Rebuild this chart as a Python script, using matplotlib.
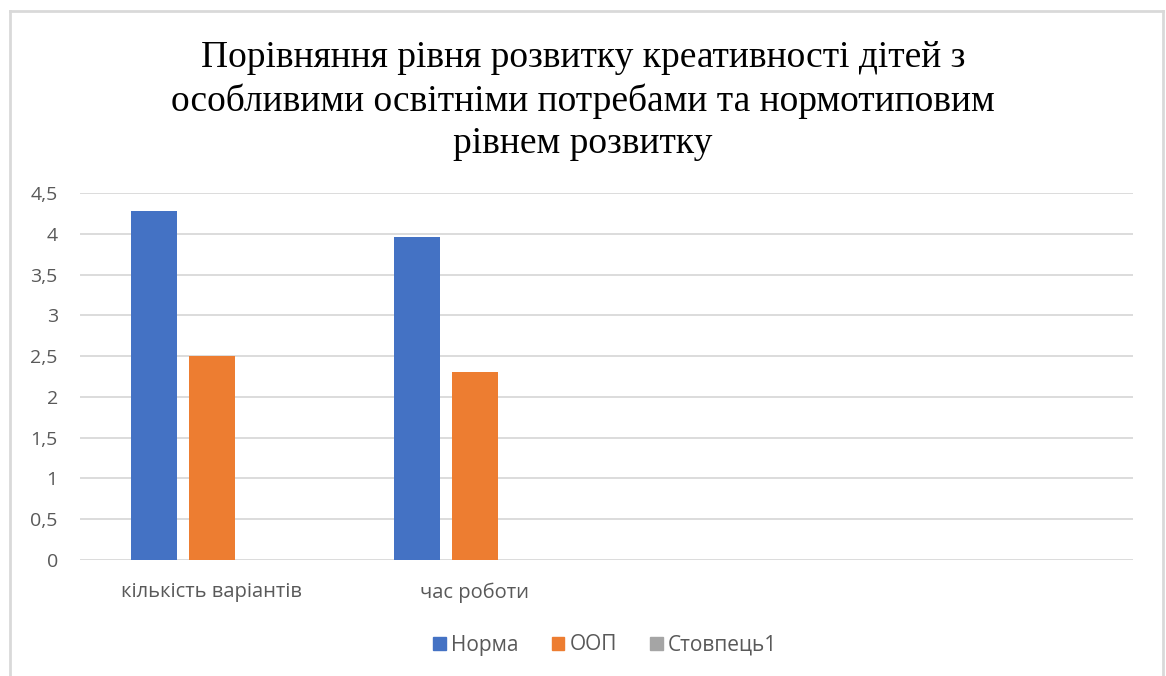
import matplotlib.pyplot as plt
import numpy as np
from matplotlib.lines import Line2D

categories = ["кількість варіантів", "час роботи", "", ""]
norma = [4.28, 3.96, 0, 0]
oop = [2.5, 2.31, 0, 0]
stovpets1 = [0, 0, 0, 0]
series_names = ["Норма", "ООП", "Стовпець1"]
colors = ["#4472C4", "#ED7D31", "#A5A5A5"]
yticks = [0, 0.5, 1, 1.5, 2, 2.5, 3, 3.5, 4, 4.5]
ytick_labels = ["0", "0,5", "1", "1,5", "2", "2,5", "3", "3,5", "4", "4,5"]

title = ("Порівняння рівня розвитку креативності дітей з\n"
         "особливими освітніми потребами та нормотиповим\n"
         "рівнем розвитку")

fig = plt.figure(figsize=(11.66, 6.76), dpi=100)
ax = fig.add_axes([80 / 1166, 1 - 560 / 676, (1133 - 80) / 1166, (560 - 193) / 676])

x = np.arange(len(categories))
step = 0.22
width = 0.175
for j, (vals, name) in enumerate(zip([norma, oop, stovpets1], series_names)):
    ax.bar(x + (j - 1) * step, vals, width, color=colors[j], label=name, zorder=3)

ax.set_xlim(-0.5, 3.5)
ax.set_ylim(0, 4.5)
ax.set_yticks(yticks)
ax.set_yticklabels(ytick_labels)
ax.set_xticks(x)
ax.set_xticklabels(categories)
ax.grid(axis="y", color="#D9D9D9", linewidth=1.3, zorder=0)
for s in ax.spines.values():
    s.set_visible(False)
ax.tick_params(length=0, labelsize=14, labelcolor="#595959")
ax.tick_params(axis="y", pad=16)
ax.tick_params(axis="x", pad=16)
for lab in ax.get_yticklabels():
    lab.set_fontfamily("Open Sans")
for lab in ax.get_xticklabels():
    lab.set_fontfamily("Open Sans")
    lab.set_fontsize(14.5)

fig.text(0.5, 1 - 101 / 676, title, ha="center", va="center", fontsize=27,
         family="Liberation Serif", linespacing=1.3)

handles = [plt.Rectangle((0, 0), 1, 1, color=c) for c in colors]
fig.legend(handles, series_names, loc="center", bbox_to_anchor=(605 / 1166, 1 - 645 / 676),
           ncol=3, frameon=False, handlelength=0.6, handleheight=0.6, handletextpad=0.25,
           columnspacing=1.6, prop={"family": "Open Sans", "size": 15}, labelcolor="#595959")

# chart border
bc = "#D9D9D9"
fig.add_artist(Line2D([10 / 1166, 10 / 1166], [0, 1 - 11 / 676], color=bc, lw=2, transform=fig.transFigure))
fig.add_artist(Line2D([10 / 1166, 1163 / 1166], [1 - 11 / 676, 1 - 11 / 676], color=bc, lw=2, transform=fig.transFigure))
fig.add_artist(Line2D([1163 / 1166, 1163 / 1166], [0, 1 - 11 / 676], color=bc, lw=2, transform=fig.transFigure))

fig.savefig("out.png", dpi=100)
